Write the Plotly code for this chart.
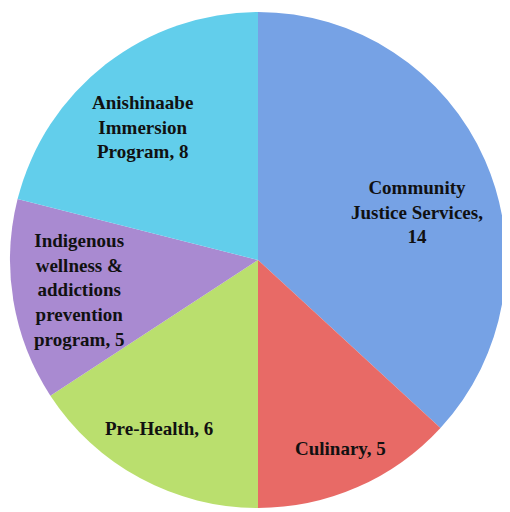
import math
import plotly.graph_objects as go

categories = ["Community Justice Services", "Culinary", "Pre-Health",
              "Indigenous wellness & addictions prevention program",
              "Anishinaabe Immersion Program"]
display_labels = ["Community<br>Justice Services,<br>14", "Culinary, 5", "Pre-Health, 6",
                  "Indigenous<br>wellness &<br>addictions<br>prevention<br>program, 5",
                  "Anishinaabe<br>Immersion<br>Program, 8"]
values = [14, 5, 6, 5, 8]
colors = ["#76A2E5", "#E86A66", "#BADF6E", "#A98AD1", "#62CEEB"]

# label placement style (fraction of radius, angular nudge in degrees)
label_radius = [0.67, 0.83, 0.79, 0.73, 0.71]
label_shift = [7, 0, 2, 0, -3]

dom_x = [2/510, 498/510]
dom_y = [1-500/512, 1-4/512]

fig = go.Figure()
fig.add_trace(go.Pie(
    labels=categories,
    values=values,
    textinfo="none",
    sort=False,
    direction="clockwise",
    rotation=0,
    marker=dict(colors=colors, line=dict(width=0)),
    domain=dict(x=dom_x, y=dom_y),
    showlegend=False,
    hoverinfo="label+value",
))

total = sum(values)
cum = 0
for v, txt, r, s in zip(values, display_labels, label_radius, label_shift):
    mid = (cum + v/2) / total * 360 + s
    cum += v
    fig.add_annotation(
        x=r * math.sin(math.radians(mid)), y=r * math.cos(math.radians(mid)),
        xref="x", yref="y", text=txt, showarrow=False,
        xanchor="center", yanchor="middle", align="center",
        font=dict(family="Liberation Serif", size=19, color="#111111", weight="bold"),
    )

fig.update_layout(
    width=510, height=512,
    margin=dict(l=0, r=0, t=0, b=0),
    paper_bgcolor="white", plot_bgcolor="rgba(0,0,0,0)",
    xaxis=dict(domain=dom_x, range=[-1, 1], visible=False, fixedrange=True),
    yaxis=dict(domain=dom_y, range=[-1, 1], visible=False, fixedrange=True),
)
fig.write_html("out.html")
